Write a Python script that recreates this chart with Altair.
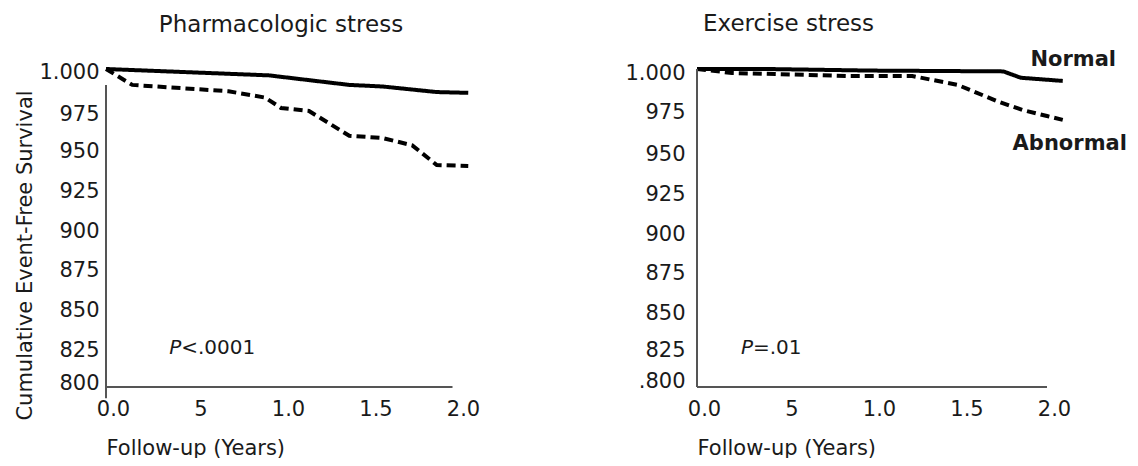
import altair as alt
import pandas as pd

# ---- data ----
pharm_normal_years = [0.0, 0.93, 1.39, 1.58, 1.89, 2.07]
pharm_normal_surv = [1.000, 0.996, 0.990, 0.989, 0.9855, 0.985]
pharm_abn_years = [0.0, 0.15, 0.70, 0.91, 1.00, 1.16, 1.39, 1.58, 1.75, 1.89, 2.07]
pharm_abn_surv = [1.000, 0.990, 0.986, 0.982, 0.9755, 0.9736, 0.958, 0.9566, 0.952, 0.9396, 0.939]

ex_normal_years = [0.0, 0.4, 1.0, 1.75, 1.85, 2.09]
ex_normal_surv = [1.000, 1.000, 0.999, 0.9985, 0.9945, 0.9925]
ex_abn_years = [0.0, 0.2, 0.87, 1.23, 1.49, 1.71, 1.86, 2.0, 2.09]
ex_abn_surv = [1.000, 0.9975, 0.9956, 0.9956, 0.990, 0.980, 0.9742, 0.9704, 0.968]

x_ticks = [0.0, 0.5, 1.0, 1.5, 2.0]
x_tick_labels = ["0.0", "5", "1.0", "1.5", "2.0"]
y_ticks = [0.800, 0.825, 0.850, 0.875, 0.900, 0.925, 0.950, 0.975, 1.000]
y_labels_left = ["800", "825", "850", "875", "900", "925", "950", "975", "1.000"]
y_labels_right = [".800", "825", "850", "875", "900", "925", "950", "975", "1.000"]

titles = ["Pharmacologic stress", "Exercise stress"]
p_texts = ["<.0001", "=.01"]
x_title = "Follow-up (Years)"
y_title = "Cumulative Event-Free Survival"

FONT = "DejaVu Sans"
INK = "#1a1a1a"
AXIS = "#555555"
W, H = 350, 318

# vertical nudges of the y tick labels, as printed in the original figure
left_label_offset = {
    "condition": [
        {"test": "datum.value < 0.81", "value": -4},
        {"test": "datum.value > 0.99", "value": 3},
        {"test": "datum.value > 0.97", "value": 6},
    ],
    "value": 3,
}
right_label_offset = {
    "condition": [
        {"test": "datum.value < 0.81", "value": -6},
        {"test": "datum.value < 0.83", "value": 3},
        {"test": "datum.value > 0.99", "value": 4},
        {"test": "datum.value > 0.97", "value": 4},
    ],
    "value": 6,
}


def arr_expr(labels):
    return "[" + ",".join("'" + s + "'" for s in labels) + "]"


x_label_expr = arr_expr(x_tick_labels) + "[round(datum.value*2)]"


def xs():
    return alt.Scale(domain=[0, 2.0], nice=False, zero=False)


def ys():
    return alt.Scale(domain=[0.8, 1.0], nice=False, zero=False)


def curves(normal_t, normal_s, abn_t, abn_s):
    rows = [{"t": t, "s": s, "g": "Normal"} for t, s in zip(normal_t, normal_s)]
    rows += [{"t": t, "s": s, "g": "Abnormal"} for t, s in zip(abn_t, abn_s)]
    return pd.DataFrame(rows)


def make_axes(ylabels, ylabel_pad, show_ytitle, ylab_offset):
    yaxis_kwargs = dict(
        values=y_ticks,
        labelExpr=arr_expr(ylabels) + "[round((datum.value-0.8)*40)]",
        domain=False, ticks=False, grid=False, labelOverlap=False,
        labelFont=FONT, labelFontSize=21, labelColor=INK,
        labelPadding=ylabel_pad, labelOffset=ylab_offset,
    )
    if show_ytitle:
        yaxis_kwargs.update(
            title=y_title, titleFont=FONT, titleFontSize=21,
            titleFontWeight="normal", titleColor=INK,
            titleX=-75, titleY=186, titleBaseline="alphabetic",
        )
    else:
        yaxis_kwargs.update(title=None)
    xaxis = alt.Axis(
        values=x_ticks, labelExpr=x_label_expr, title=x_title,
        domain=False, ticks=False, grid=False, labelOverlap=False,
        labelFont=FONT, labelFontSize=21, labelColor=INK,
        labelPadding=11, labelOffset=7, labelFlush=False,
        titleFont=FONT, titleFontSize=21, titleFontWeight="normal",
        titleColor=INK, titleAnchor="start", titlePadding=18,
    )
    return xaxis, alt.Axis(**yaxis_kwargs)


def panel(df, ylabels, ylabel_pad, show_ytitle, ylab_offset, title, title_params,
          xaxis_end, yaxis_lo, yaxis_hi, ptext_x, ptext, with_labels=False):
    xaxis, yaxis = make_axes(ylabels, ylabel_pad, show_ytitle, ylab_offset)

    def X(field):
        return alt.X(field, scale=xs(), axis=xaxis, title=x_title)

    def Y(field):
        return alt.Y(field, scale=ys(), axis=yaxis,
                     title=y_title if show_ytitle else None)

    lines = alt.Chart(df).mark_line(strokeWidth=4, color="black", clip=False,
                                    strokeCap="butt").encode(
        x=X("t:Q"),
        y=Y("s:Q"),
        strokeDash=alt.StrokeDash(
            "g:N",
            scale=alt.Scale(domain=["Normal", "Abnormal"], range=[[1, 0], [9, 5]]),
            legend=None,
        ),
        detail="g:N",
    )

    axis_df = pd.DataFrame([
        {"x": 0.0, "x2": xaxis_end, "y": 0.8, "y2": 0.8},
        {"x": 0.0, "x2": 0.0, "y": yaxis_lo, "y2": yaxis_hi},
    ])
    axes = alt.Chart(axis_df).mark_rule(color=AXIS, strokeWidth=2, clip=False).encode(
        x=X("x:Q"), x2="x2:Q", y=Y("y:Q"), y2="y2:Q",
    )

    p_df = pd.DataFrame([{"x": ptext_x, "y": 0.8245, "rest": ptext}])
    p_italic = alt.Chart(p_df).mark_text(
        text="P", font=FONT, fontSize=20, fontStyle="italic", align="right",
        baseline="middle", color=INK,
    ).encode(x=X("x:Q"), y=Y("y:Q"))
    p_rest = alt.Chart(p_df).mark_text(
        font=FONT, fontSize=20, align="left", baseline="middle", color=INK,
    ).encode(x=X("x:Q"), y=Y("y:Q"), text="rest:N")

    layers = [lines, axes, p_italic, p_rest]
    if with_labels:
        label_df = pd.DataFrame([
            {"x": 2.15, "y": 1.0057, "label": "Normal"},
            {"x": 2.13, "y": 0.953, "label": "Abnormal"},
        ])
        layers.append(alt.Chart(label_df).mark_text(
            font=FONT, fontSize=21, fontWeight="bold", align="center",
            baseline="middle", color=INK, clip=False,
        ).encode(x=X("x:Q"), y=Y("y:Q"), text="label:N"))
    return alt.layer(*layers).properties(
        width=W, height=H,
        title=alt.TitleParams(
            text=title, font=FONT, fontSize=23, fontWeight="normal", color=INK,
            frame="group", baseline="alphabetic", **title_params,
        ),
    )


left_df = curves(pharm_normal_years, pharm_normal_surv, pharm_abn_years, pharm_abn_surv)
right_df = curves(ex_normal_years, ex_normal_surv, ex_abn_years, ex_abn_surv)

left = panel(left_df, y_labels_left, 7, True, left_label_offset, titles[0],
             dict(anchor="middle", offset=6.5),
             1.98, 0.793, 0.990, 0.43, p_texts[0])
right = panel(right_df, y_labels_right, 12, False, right_label_offset, titles[1],
              dict(anchor="start", offset=0, dy=5.5, dx=6),
              2.0, 0.8, 1.0, 0.32, p_texts[1], with_labels=True)

chart = alt.hconcat(left, right, spacing=241, bounds="flush").properties(
    padding={"left": 13, "top": 13, "right": 0, "bottom": 0},
    background="white",
).configure_view(stroke=None)

chart.save("out.html", embed_options={"renderer": "svg", "actions": False})
